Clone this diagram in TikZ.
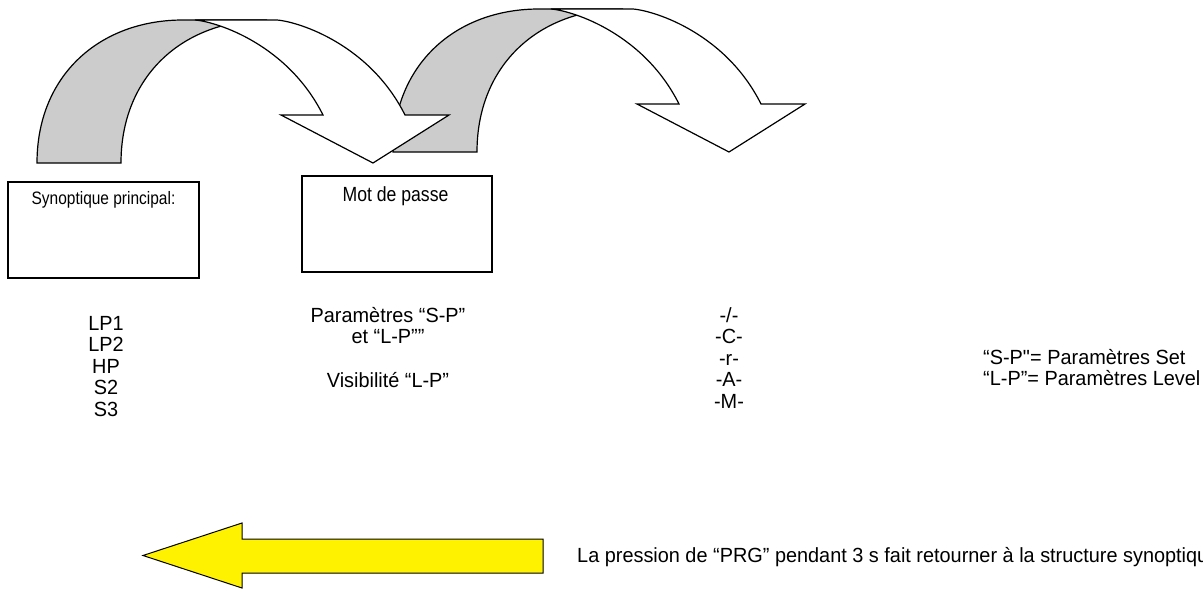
\documentclass[tikz,border=0pt]{standalone}
\usepackage{fontspec}
\setmainfont{Liberation Sans}[FakeStretch=0.97]
\newfontfamily\narrowfont{Liberation Sans}[FakeStretch=0.86]
\begin{document}
\begin{tikzpicture}[x=1pt,y=-1pt,
  lbl/.style={anchor=base,inner sep=0pt,font=\fontsize{20.5}{24}\selectfont},
  lblw/.style={lbl,anchor=base west},
  panel/.style={draw,line width=1.2pt,fill=white,rectangle,inner sep=0pt},
  band/.style={draw,line width=1.2pt,line join=miter},
  back/.style={band,fill=black!20},
  front/.style={band,fill=white},
  retour/.style={draw,line width=1pt,fill=yellow,line join=miter}
]
\clip (0,0) rectangle (1203,589);
\useasboundingbox (0,0) rectangle (1203,589);

% curved "go to next screen" arrows; the later one sits behind the earlier one
\foreach \dx/\dy in {356/-11,0/0}{
  \begin{scope}[shift={(\dx,\dy)}]
    \path[back] (37,163) .. controls (37,75) and (100,20) .. (183,20)
      -- (267,20) .. controls (184,20) and (121,75) .. (121,163) -- cycle;
    \path[front] (195,20) -- (277,20)
      .. controls (300,22) and (370,45) .. (405,115)
      -- (449,115) -- (373,163) -- (281,115) -- (323,115)
      .. controls (288,45) and (218,22) .. (195,20) -- cycle;
  \end{scope}
}

% screens
\node[panel,minimum width=191pt,minimum height=96pt] (synop) at (103.5,230) {};
\node[panel,minimum width=190pt,minimum height=96pt] (mdp) at (397,224) {};
\node[lbl,font=\narrowfont\fontsize{18}{20}\selectfont] (synoptitle) at (103.5,204) {Synoptique principal:};
\node[lbl,font=\narrowfont\fontsize{20.5}{23}\selectfont] (mdptitle) at (395.5,201) {Mot de passe};

% menu entries under each screen
\foreach \t [count=\i] in {LP1,LP2,HP,S2,S3}
  \node[lbl] (lp\i) at (106,{330+21.5*(\i-1)}) {\t};
\node[lbl] (par1) at (388,322) {Paramètres “S-P”};
\node[lbl] (par2) at (388,343.5) {et “L-P””};
\node[lbl] (visi) at (388,387) {Visibilité “L-P”};
\foreach \t [count=\i] in {-/-,-C-,-r-,-A-,-M-}
  \node[lbl] (cod\i) at (729,{322+21.5*(\i-1)}) {\t};

% legend
\node[lblw] (legsp) at (983,364) {“S-P\textquotedbl= Paramètres Set};
\node[lblw] (leglp) at (983,385) {“L-P”= Paramètres Level};

% return arrow
\path[retour] (543,539) -- (242,539) -- (242,523) -- (143,555.5)
  -- (242,588) -- (242,573) -- (543,573) -- cycle;
\node[lblw] (retourtxt) at (577,562) {La pression de “PRG” pendant 3 s fait retourner à la structure synoptique};
\end{tikzpicture}
\end{document}
